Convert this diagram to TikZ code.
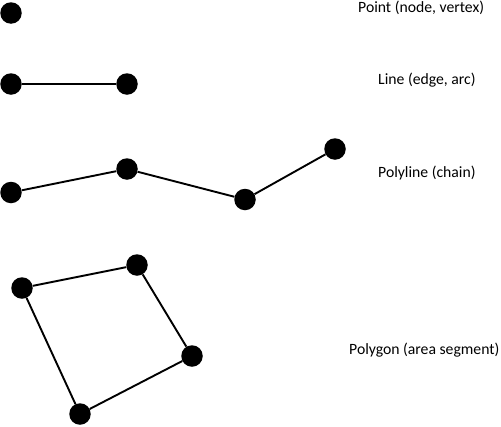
\documentclass[tikz,border=0pt]{standalone}
\usepackage{fontspec}
\setmainfont{Carlito}
\begin{document}
\begin{tikzpicture}[x=1pt,y=-1pt,
  vtx/.style={circle,fill=black,inner sep=0pt,minimum size=21.5pt},
  edge/.style={line width=1.9pt,black},
  lbl/.style={anchor=base west,inner sep=0pt,font=\fontsize{15.7}{18}\selectfont}]
\useasboundingbox (0,0) rectangle (501,426);
% Point
\node[vtx] (p1) at (11,13) {};
% Line
\node[vtx] (l1) at (11,84) {};
\node[vtx] (l2) at (127,84) {};
\draw[edge] (l1) -- (l2);
% Polyline
\node[vtx] (q1) at (11,192.5) {};
\node[vtx] (q2) at (127,169) {};
\node[vtx] (q3) at (245,199.5) {};
\node[vtx] (q4) at (335,149) {};
\draw[edge] (q1) -- (q2) -- (q3) -- (q4);
% Polygon
\node[vtx] (g1) at (22,288) {};
\node[vtx] (g2) at (137,265) {};
\node[vtx] (g3) at (192,356) {};
\node[vtx] (g4) at (80,414) {};
\draw[edge] (g1) -- (g2) -- (g3) -- (g4) -- (g1);
% Labels
\node[lbl] (t1) at (358,12) {Point (node, vertex)};
\node[lbl] (t2) at (378,84) {Line (edge, arc)};
\node[lbl] (t3) at (378,177) {Polyline (chain)};
\node[lbl] (t4) at (349,354) {Polygon (area segment)};
\end{tikzpicture}
\end{document}
